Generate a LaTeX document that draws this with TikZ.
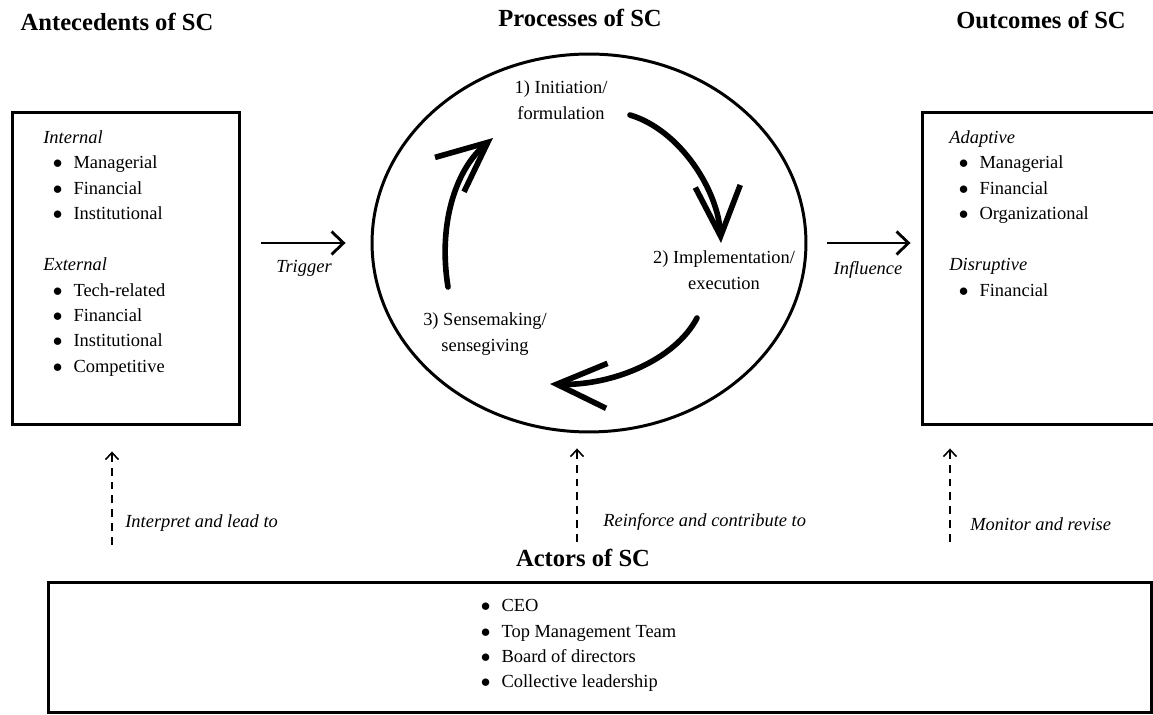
\documentclass[tikz,border=0pt]{standalone}
\usepackage{fontspec}
\setmainfont{Liberation Serif}
\usetikzlibrary{arrows.meta,positioning,calc,shapes.geometric}
\newcommand{\bul}[1]{\hspace*{5.4pt}$\bullet$\hspace{6.3pt}#1}
\tikzset{
  box/.style={draw, line width=1.7pt, inner sep=0pt},
  listtext/.style={anchor=north west, align=left, inner sep=0pt, font=\fontsize{10.5}{14.5}\selectfont},
  steplabel/.style={align=center, inner sep=0pt, font=\fontsize{10.5}{14.5}\selectfont},
  heading/.style={font=\fontsize{14}{16}\selectfont\bfseries, inner sep=0pt},
  cue/.style={font=\fontsize{10.5}{12}\selectfont\itshape, inner sep=0pt},
  flowarrow/.style={-{Straight Barb[length=2.4mm,width=4.6mm]}, line width=1.6pt},
  cyclearrow/.style={-{Straight Barb[length=10mm,width=9mm]}, line width=3.2pt, line cap=round},
  dasharrow/.style={-{Straight Barb[length=1.4mm,width=2.6mm]}, line width=0.9pt, dash pattern=on 4.5pt off 3.4pt}
}

\begin{document}
\begin{tikzpicture}[x=0.02cm, y=-0.02cm]
\useasboundingbox (0,0) rectangle (1153,715);

% headings
\node[heading] (anttitle) at (117,22) {Antecedents of SC};
\node[heading] (proctitle) at (580,18) {Processes of SC};
\node[heading] (outtitle) at (1041,20) {Outcomes of SC};
\node[heading] (acttitle) at (583,558) {Actors of SC};

% antecedents
\node[box, minimum width=4.56cm, minimum height=6.26cm] (antbox) at (126,268.5) {};
\node[listtext] (antlist) at (43,130) {\textit{Internal}\\ \bul{Managerial}\\ \bul{Financial}\\ \bul{Institutional}\\[14.5pt]
  \textit{External}\\ \bul{Tech-related}\\ \bul{Financial}\\ \bul{Institutional}\\ \bul{Competitive}};

% processes
\node[box, ellipse, minimum width=8.68cm, minimum height=7.56cm] (proc) at (589,243) {};
\node[steplabel] (step1) at (561,100) {1) Initiation/\\formulation};
\node[steplabel] (step2) at (724,270) {2) Implementation/\\execution};
\node[steplabel] (step3) at (485,334) {3) Sensemaking/\\sensegiving};
\coordinate (c1s) at (630,115); \coordinate (c1e) at (721,243);
\coordinate (c2s) at (697,318); \coordinate (c2e) at (550,384);
\coordinate (c3s) at (448,287); \coordinate (c3e) at (493,138);
\draw[cyclearrow] (c1s) .. controls (680,130) and (718,190) .. (c1e);
\draw[cyclearrow] (c2s) .. controls (675,360) and (612,386) .. (c2e);
\draw[cyclearrow] (c3s) .. controls (438,225) and (455,170) .. (c3e);

% outcomes
\node[box, minimum width=4.68cm, minimum height=6.26cm] (outbox) at (1039,268.5) {};
\node[listtext] (outlist) at (949,130) {\textit{Adaptive}\\ \bul{Managerial}\\ \bul{Financial}\\ \bul{Organizational}\\[14.5pt]
  \textit{Disruptive}\\ \bul{Financial}};

\draw[flowarrow] ($(antbox.east |- proc.center)+(20,0)$) -- ($(proc.west)+(-25,0)$);
\draw[flowarrow] ($(proc.east)+(20,0)$) -- ($(outbox.west |- proc.center)+(-10,0)$);
\node[cue] (trigger) at (304,268) {Trigger};
\node[cue] (influence) at (868,270) {Influence};

% actors
\node[box, minimum width=22.08cm, minimum height=2.62cm] (actbox) at (600,647.5) {};
\node[listtext] (actlist) at (471,599) {\bul{CEO}\\ \bul{Top Management Team}\\ \bul{Board of directors}\\ \bul{Collective leadership}};

\coordinate (d1) at (112,545);
\coordinate (d2) at (577,542);
\coordinate (d3) at (950,542);
\draw[dasharrow] (d1) -- ([yshift=-0.5cm]d1 |- antbox.south);
\draw[dasharrow] (d2) -- ([yshift=-0.3cm]d2 |- proc.south);
\draw[dasharrow] (d3) -- ([yshift=-0.44cm]d3 |- outbox.south);
\node[cue, anchor=west] (interpret) at (125,523) {Interpret and lead to};
\node[cue, anchor=west] (reinforce) at (603,522) {Reinforce and contribute to};
\node[cue, anchor=west] (monitor) at (970,524) {Monitor and revise};
\end{tikzpicture}
\end{document}
